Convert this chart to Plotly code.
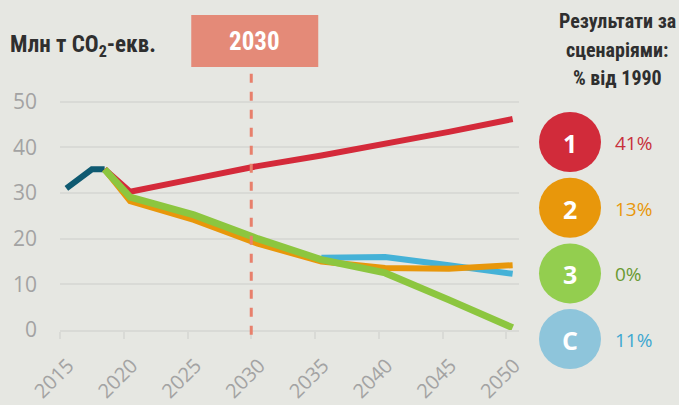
import plotly.graph_objects as go

# --- data ---
hist_years = [2015, 2017, 2018]
hist_vals = [31.0, 35.2, 35.2]

scen_years = [2018, 2020, 2025, 2030, 2035, 2040, 2045, 2050]
scen1 = [35.2, 30.3, 33.1, 35.9, 38.2, 40.7, 43.4, 46.2]
scen2 = [35.2, 28.2, 24.1, 18.9, 15.0, 13.6, 13.4, 14.2]
scen3 = [35.2, 29.1, 25.2, 20.0, 15.4, 12.5, 6.6, 0.5]

scenc_years = [2035, 2040, 2045, 2050]
scenc = [15.8, 16.0, 14.2, 12.3]

tick_years = [2015, 2020, 2025, 2030, 2035, 2040, 2045, 2050]
y_ticks = [0, 10, 20, 30, 40, 50]

legend_labels = ["1", "2", "3", "C"]
legend_pcts = ["41%", "13%", "0%", "11%"]
legend_fill = ["#D12B3A", "#E8970B", "#93CE4F", "#8EC5DB"]
legend_text = ["#C8303B", "#E8970B", "#6A9A32", "#3EA8D1"]

MARK_YEAR = 2030
X_RANGE = [2015, 2051]
Y_RANGE = [0, 53]
OFFSET = 0.5  # values plotted at mid-year

BG = "#E6E7E2"
GRID = "#D9DAD6"
TICK_FONT = "Open Sans, DejaVu Sans, sans-serif"
HEAD_FONT = "Liberation Sans Narrow, Roboto Condensed, Roboto, sans-serif"


def shift(years):
    return [y + OFFSET for y in years]


def line(x, y, color, width=6):
    return go.Scatter(x=shift(x), y=y, mode="lines",
                      line=dict(color=color, width=width),
                      hoverinfo="skip", showlegend=False)


fig = go.Figure()
fig.add_trace(line(hist_years, hist_vals, "#0F5A71"))
fig.add_trace(line(scen_years, scen1, "#D42A3A"))
fig.add_trace(line(scenc_years, scenc, "#45B2D7"))
fig.add_trace(line(scen_years, scen2, "#E8970B"))
fig.add_trace(line(scen_years, scen3, "#8CC63F", 7))

W, H = 679, 405
L, R, T, B = 60, 160, 88, 75
pw, ph = W - L - R, H - T - B


def px_to_paper(px, py):
    return (px - L) / pw, (H - B - py) / ph


def note(px, py, text, font, xanchor="center"):
    x, y = px_to_paper(px, py)
    return dict(xref="paper", yref="paper", x=x, y=y, text=text, showarrow=False,
                xanchor=xanchor, yanchor="middle", font=font)


mark_x = (MARK_YEAR - X_RANGE[0]) / (X_RANGE[1] - X_RANGE[0])

shapes = []
annotations = []

# dashed 2030 marker and its box
_, box_bottom = px_to_paper(0, 67)
_, box_top = px_to_paper(0, 15)
shapes.append(dict(type="line", xref="paper", yref="paper",
                   x0=mark_x, x1=mark_x, y0=-0.02, y1=box_bottom,
                   line=dict(color="#E8806C", width=3, dash="dash"), layer="above"))
shapes.append(dict(type="rect", xref="paper", yref="paper",
                   x0=mark_x - 60 / pw, x1=mark_x + 67 / pw, y0=box_bottom, y1=box_top,
                   fillcolor="#E48A78", line=dict(width=0)))
annotations.append(note(L + mark_x * pw + 3.5, 42, "<b>%d</b>" % MARK_YEAR,
                        dict(family=HEAD_FONT, size=25, color="white")))

# y-axis title
annotations.append(note(8, 46, "<b>Млн т CO<sub>2</sub>-екв.</b>",
                        dict(family=HEAD_FONT, size=23, color="#2F2F2F"), xanchor="left"))

# right header
for text, py in zip(["Результати за", "сценаріями:", "% від 1990"], [21, 50, 78]):
    annotations.append(note(617, py, "<b>%s</b>" % text,
                            dict(family=HEAD_FONT, size=20, color="#2F2F2F")))

# scenario badges
for i, (lab, pct, fill, tcol) in enumerate(zip(legend_labels, legend_pcts, legend_fill, legend_text)):
    py = 142 + i * 65.7
    cx, cy = px_to_paper(570, py)
    shapes.append(dict(type="circle", xref="paper", yref="paper",
                       xsizemode="pixel", ysizemode="pixel", xanchor=cx, yanchor=cy,
                       x0=-31, x1=31, y0=-30, y1=30, fillcolor=fill, line=dict(width=0)))
    annotations.append(note(570, py + 1, "<b>%s</b>" % lab,
                            dict(family=TICK_FONT, size=25, color="white")))
    annotations.append(note(613, py + 1, pct,
                            dict(family=TICK_FONT, size=19, color=tcol), xanchor="left"))

fig.update_layout(
    width=W, height=H,
    margin=dict(l=L, r=R, t=T, b=B, autoexpand=False),
    paper_bgcolor=BG, plot_bgcolor=BG,
    showlegend=False,
    shapes=shapes, annotations=annotations,
    xaxis=dict(range=X_RANGE, tickvals=tick_years, tickangle=-45,
               showgrid=False, zeroline=False, automargin=False,
               showline=True, linecolor=GRID, linewidth=2,
               ticks="outside", ticklen=7, tickwidth=2, tickcolor=GRID,
               ticklabelstandoff=7, ticklabelshift=8,
               tickfont=dict(family=TICK_FONT, size=20, color="#A3A3A3")),
    yaxis=dict(range=Y_RANGE, tickvals=y_ticks, showgrid=True, gridcolor=GRID, gridwidth=2,
               zeroline=False, showline=False, ticklabelstandoff=22, automargin=False,
               tickfont=dict(family=TICK_FONT, size=21, color="#A3A3A3")),
)

fig.write_html("out.html", config={"displayModeBar": False},
               post_script="document.body.style.margin='0';")
